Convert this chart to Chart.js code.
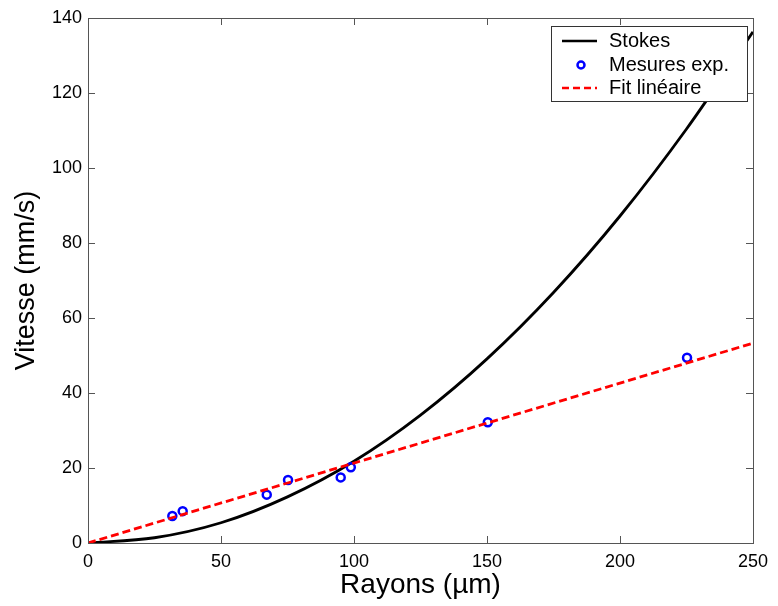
<!DOCTYPE html>
<html>
<head>
<meta charset="utf-8">
<script src="https://cdn.jsdelivr.net/npm/chart.js@4"></script>
<style>
  html, body { margin: 0; padding: 0; background: #fff; }
  #wrap { width: 778px; height: 606px; }
</style>
</head>
<body>
<div id="wrap"><canvas id="vitesseChart"></canvas></div>
<script>
// Stokes curve, every 25 µm
const stokesR = [0, 25, 50, 75, 100, 125, 150, 175, 200, 225, 250];
const stokesV = [0, 1.4, 5.4, 12.3, 21.8, 34.1, 49.1, 66.8, 87.2, 110.4, 136.3];

// experimental points
const mesuresR = [31.7, 35.6, 67.2, 75.2, 95, 98.8, 150.3, 225.2];
const mesuresV = [7.2, 8.5, 12.9, 16.8, 17.5, 20.2, 32.2, 49.4];

// linear fit
const fitR = [0, 250];
const fitV = [0, 53.3];

const xTicks = [0, 50, 100, 150, 200, 250];
const yTicks = [0, 20, 40, 60, 80, 100, 120, 140];

const toPts = (xs, ys) => xs.map((x, i) => ({ x: x, y: ys[i] }));

const axisColor = '#555';
const fontFam = '"Liberation Sans", Arial, sans-serif';

// box + inward ticks on all 4 sides, and the legend
const framePlugin = {
    id: 'frame',
    afterDraw(chart) {
        const ctx = chart.ctx;
        const a = chart.chartArea;
        const xs = chart.scales.x, ys = chart.scales.y;
        ctx.save();
        ctx.strokeStyle = axisColor;
        ctx.lineWidth = 1;
        ctx.strokeRect(a.left + 0.5, a.top + 0.5, a.right - a.left, a.bottom - a.top);
        ctx.beginPath();
        xTicks.forEach(v => {
            const px = Math.round(xs.getPixelForValue(v)) + 0.5;
            ctx.moveTo(px, a.bottom); ctx.lineTo(px, a.bottom - 7);
            ctx.moveTo(px, a.top); ctx.lineTo(px, a.top + 7);
        });
        yTicks.forEach(v => {
            const py = Math.round(ys.getPixelForValue(v)) + 0.5;
            ctx.moveTo(a.left, py); ctx.lineTo(a.left + 7, py);
            ctx.moveTo(a.right, py); ctx.lineTo(a.right - 7, py);
        });
        ctx.stroke();

        // legend
        const lx = 551, ly = 26, lw = 196, lh = 75;
        ctx.fillStyle = '#fff';
        ctx.fillRect(lx, ly, lw, lh);
        ctx.strokeStyle = '#333';
        ctx.strokeRect(lx + 0.5, ly + 0.5, lw, lh);
        ctx.font = '20px ' + fontFam;
        ctx.textBaseline = 'middle';
        ctx.fillStyle = '#000';
        const rows = [41, 65, 88];
        // Stokes
        ctx.strokeStyle = '#000';
        ctx.lineWidth = 2.5;
        ctx.setLineDash([]);
        ctx.beginPath(); ctx.moveTo(562, rows[0]); ctx.lineTo(597, rows[0]); ctx.stroke();
        ctx.fillText('Stokes', 609, rows[0]);
        // Mesures
        ctx.strokeStyle = '#0000ff';
        ctx.beginPath(); ctx.arc(581, rows[1], 3.5, 0, Math.PI * 2); ctx.stroke();
        ctx.fillText('Mesures exp.', 609, rows[1]);
        // Fit
        ctx.strokeStyle = '#ff0000';
        ctx.setLineDash([7, 4]);
        ctx.beginPath(); ctx.moveTo(562, rows[2]); ctx.lineTo(597, rows[2]); ctx.stroke();
        ctx.setLineDash([]);
        ctx.fillText('Fit linéaire', 609, rows[2]);
        ctx.restore();
    }
};

new Chart(document.getElementById('vitesseChart').getContext('2d'), {
    type: 'scatter',
    data: {
        datasets: [{
            label: 'Stokes',
            data: toPts(stokesR, stokesV),
            showLine: true,
            borderColor: '#000',
            borderWidth: 2.8,
            pointRadius: 0,
            cubicInterpolationMode: 'monotone',
            order: 3
        }, {
            label: 'Mesures exp.',
            data: toPts(mesuresR, mesuresV),
            showLine: false,
            borderColor: '#0000ff',
            backgroundColor: 'rgba(0,0,0,0)',
            borderWidth: 2.5,
            pointRadius: 4,
            order: 2
        }, {
            label: 'Fit linéaire',
            data: toPts(fitR, fitV),
            showLine: true,
            borderColor: '#ff0000',
            borderWidth: 2.8,
            borderDash: [8, 4],
            pointRadius: 0,
            order: 1
        }]
    },
    options: {
        responsive: true,
        maintainAspectRatio: false,
        animation: false,
        layout: { padding: { left: 0, top: 18, right: 25, bottom: 0 } },
        plugins: {
            legend: { display: false },
            tooltip: { enabled: false }
        },
        scales: {
            x: {
                type: 'linear',
                min: 0,
                max: 250,
                afterFit: s => { s.height = 63; },
                afterBuildTicks: s => { s.ticks = xTicks.map(v => ({ value: v })); },
                grid: { display: false, drawTicks: false },
                border: { display: true, color: axisColor },
                ticks: { color: '#000', padding: 8, maxRotation: 0, font: { size: 18, family: fontFam } },
                title: {
                    display: true,
                    text: 'Rayons (µm)',
                    color: '#000',
                    font: { size: 28, family: fontFam },
                    padding: { top: 0, bottom: 4 }
                }
            },
            y: {
                type: 'linear',
                min: 0,
                max: 140,
                afterFit: s => { s.width = 88; },
                afterBuildTicks: s => { s.ticks = yTicks.map(v => ({ value: v })); },
                grid: { display: false, drawTicks: false },
                border: { display: true, color: axisColor },
                ticks: { color: '#000', padding: 6, font: { size: 18, family: fontFam } },
                title: {
                    display: true,
                    text: 'Vitesse (mm/s)',
                    color: '#000',
                    font: { size: 27, family: fontFam },
                    padding: { top: 10, bottom: 0 }
                }
            }
        }
    },
    plugins: [framePlugin]
});
</script>
</body>
</html>
